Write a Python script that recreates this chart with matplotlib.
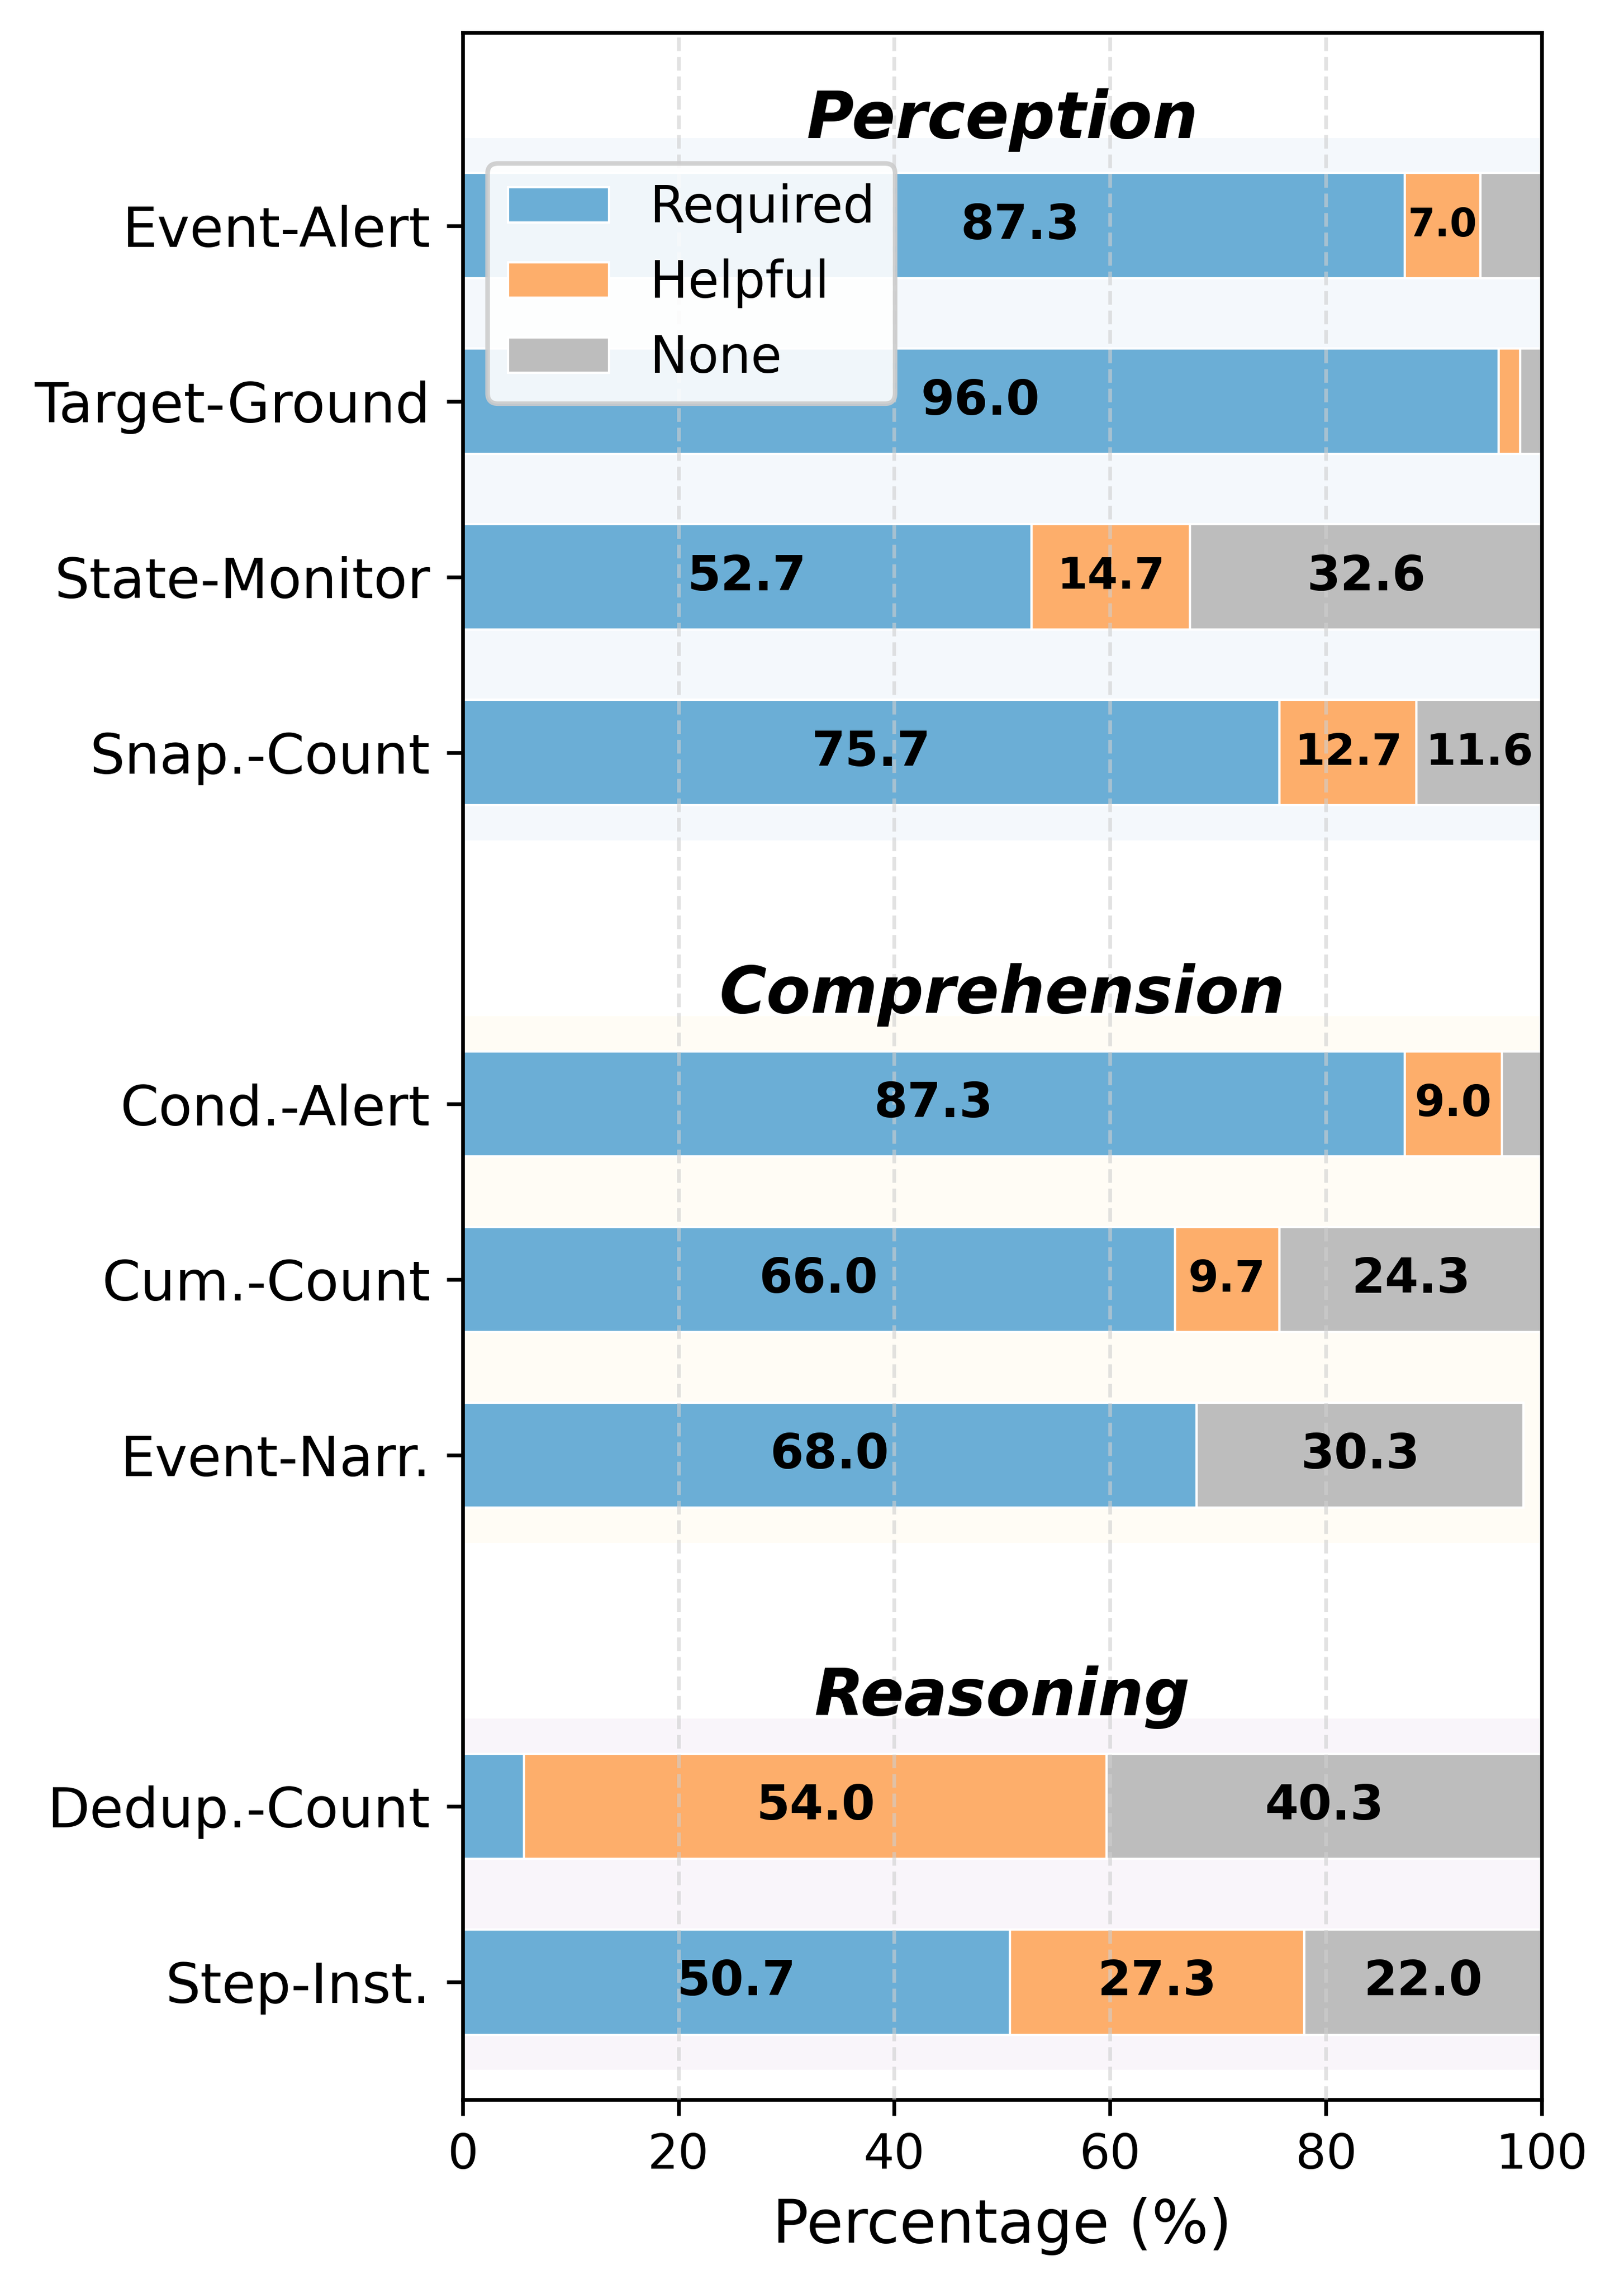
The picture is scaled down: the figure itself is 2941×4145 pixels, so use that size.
import matplotlib
matplotlib.use("Agg")
from matplotlib import pyplot as plt
from matplotlib.patches import Patch

# task data, grouped by category
groups = ["Perception", "Comprehension", "Reasoning"]
group_tasks = [
    ["Event-Alert", "Target-Ground", "State-Monitor", "Snap.-Count"],
    ["Cond.-Alert", "Cum.-Count", "Event-Narr."],
    ["Dedup.-Count", "Step-Inst."],
]
required = [87.3, 96.0, 52.7, 75.7, 87.3, 66.0, 68.0, 5.7, 50.7]
helpful = [7.0, 2.0, 14.7, 12.7, 9.0, 9.7, 0.0, 54.0, 27.3]
none = [5.7, 2.0, 32.6, 11.6, 3.7, 24.3, 30.3, 40.3, 22.0]

series = [("Required", required, "#6baed6"),
          ("Helpful", helpful, "#fdae6b"),
          ("None", none, "#bdbdbd")]
band_colors = ["#f4f8fc", "#fffcf5", "#f9f5fa"]

fig = plt.figure(figsize=(2941 / 600, 4145 / 600), dpi=600)
ax = fig.add_axes([0.2848, 0.0827, 0.9494 - 0.2848, 0.9858 - 0.0827])

# y positions with a one-row gap between groups
positions = []
labels = []
group_ranges = []
y = 0
for tasks in group_tasks:
    start = y
    for t in tasks:
        positions.append(y)
        labels.append(t)
        y += 1
    group_ranges.append((start, y - 1))
    y += 1

bar_h = 0.6
for i, ((start, end), name, col) in enumerate(zip(group_ranges, groups, band_colors)):
    ax.axhspan(start - 0.5, end + 0.5, color=col, zorder=0, lw=0)
    ty = start - 0.60 if i == 0 else start - 0.62
    ax.text(50, ty, name, ha="center", va="center",
            fontsize=14, fontweight="bold", fontstyle="italic", zorder=5)

left = [0.0] * len(positions)
for name, vals, col in series:
    ax.barh(positions, vals, height=bar_h, left=left, color=col,
            edgecolor="white", linewidth=0.5, label=name, zorder=2)
    for p, l, v in zip(positions, left, vals):
        if v >= 6.5:
            if v >= 20:
                fs = 10.5
            elif v >= 9:
                fs = 9.5
            else:
                fs = 8.5
            x = l + v / 2
            # first bar label sits partly under the legend, nudge it right
            if name == "Required" and p == positions[0]:
                x += 8
            ax.text(x, p, f"{v:.1f}", ha="center", va="center",
                    fontsize=fs, fontweight="bold", color="black", zorder=4)
    left = [a + b for a, b in zip(left, vals)]

for gx in [20, 40, 60, 80]:
    ax.axvline(gx, color="#cfcfcf", linestyle="--", linewidth=0.8,
               alpha=0.6, zorder=3)

ax.set_xlim(0, 100)
ax.set_ylim(10.67, -1.1)
ax.set_yticks(positions)
ax.set_yticklabels(labels, fontsize=12)
ax.tick_params(axis="x", labelsize=10.5)
ax.set_xlabel("Percentage (%)", fontsize=13)

handles = [Patch(facecolor=c, edgecolor="white", linewidth=0.5, label=n)
           for n, _, c in series]
ax.legend(handles=handles, loc="upper left", bbox_to_anchor=(0, 0.949),
          fontsize=11, framealpha=0.9)

fig.savefig("out.png", dpi=600)
